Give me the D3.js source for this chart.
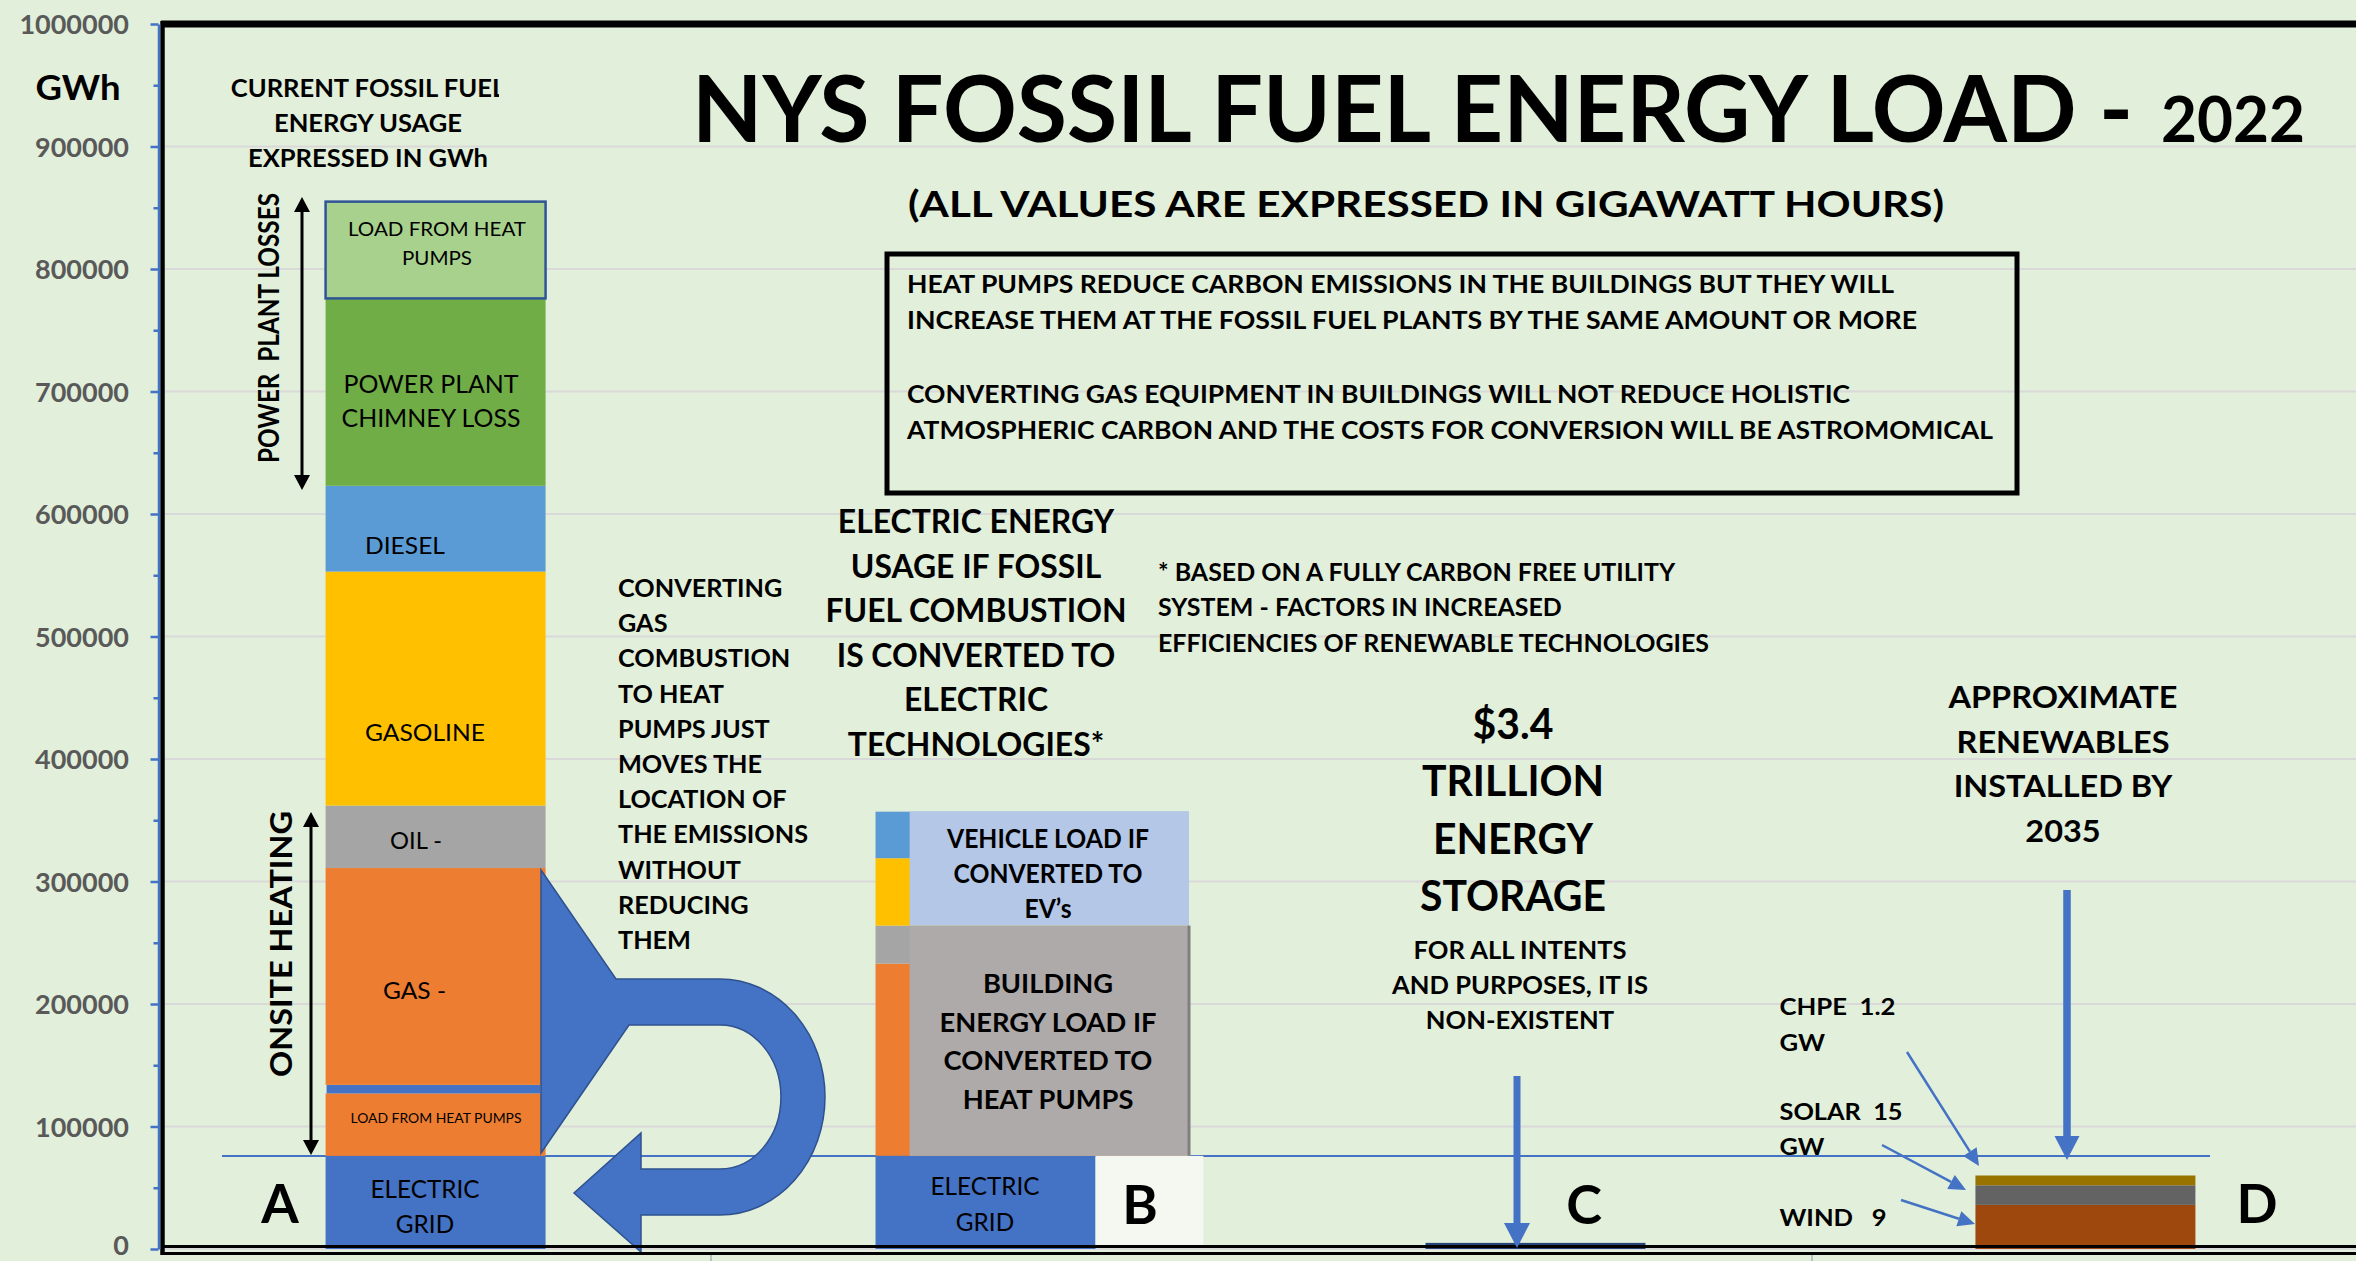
<!DOCTYPE html>
<html><head><meta charset="utf-8">
<script src="https://cdn.jsdelivr.net/npm/d3@7"></script>
<style>
html,body{margin:0;padding:0;background:#e2efda;overflow:hidden;}
svg{display:block;}
text{font-family:Lato,"Open Sans","DejaVu Sans",sans-serif;}
</style></head><body>
<svg id="c" width="2356" height="1261"></svg>
<script>
// ---------------- DATA ----------------
const categories = ["A", "B", "C", "D"];
const yTicks = [0, 100000, 200000, 300000, 400000, 500000, 600000, 700000, 800000, 900000, 1000000];
const minorTicks = [50000, 150000, 250000, 350000, 450000, 550000, 650000, 750000, 850000, 950000];

// Column A: current fossil fuel energy usage (GWh), stacked bottom -> top
const segNamesA = ["ELECTRIC GRID", "LOAD FROM HEAT PUMPS", "TRANSFER", "GAS -", "OIL -", "GASOLINE", "DIESEL", "POWER PLANT CHIMNEY LOSS", "LOAD FROM HEAT PUMPS (PLANT)"];
const segValuesA = [76000, 51000, 7000, 177000, 51000, 191000, 70000, 153000, 79000];
const segColorsA = ["#4472c4", "#ed7d31", "#4472c4", "#ed7d31", "#a5a5a5", "#ffc000", "#5b9bd5", "#70ad47", "#a9d18e"];

// Column B: electric usage if converted (underlying stack)
const segNamesB = ["ELECTRIC GRID", "HEATING", "OIL", "GASOLINE", "DIESEL"];
const segValuesB = [76000, 157000, 31000, 55000, 38000];
const segColorsB = ["#4472c4", "#ed7d31", "#a5a5a5", "#ffc000", "#5b9bd5"];
// Column B: converted loads stacked on the electric grid
const convNamesB = ["BUILDING ENERGY LOAD IF CONVERTED TO HEAT PUMPS", "VEHICLE LOAD IF CONVERTED TO EV's"];
const convValuesB = [188000, 93000];
const convColorsB = ["#aeaaaa", "#b4c7e7"];

// Column C: energy storage
const valuesC = [5000];
const colorC = "#264478";

// Column D: renewables installed by 2035
const segNamesD = ["WIND", "SOLAR", "CHPE"];
const segValuesD = [36000, 16000, 8000];
const segColorsD = ["#9e480e", "#636363", "#997300"];

const gridLevel = 76000;

// ---------------- SETUP ----------------
const svg = d3.select("#c");
const W = 2356, H = 1261;
const y = d3.scaleLinear().domain([0, 1000000]).range([1249, 24]);
const x = d3.scaleBand().domain(categories).range([165, 2356]).paddingInner(0.6).paddingOuter(0.292);
const bw = x.bandwidth();

function cum(vals) { let s = 0; return vals.map(v => { const a = s; s += v; return [a, s]; }); }

svg.append("rect").attr("width", W).attr("height", H).attr("fill", "#e2efda");

// gridlines
svg.append("g").selectAll("line").data(yTicks).join("line")
  .attr("x1", 165).attr("x2", W).attr("y1", d => y(d)).attr("y2", d => y(d))
  .attr("stroke", "#d9d9d9").attr("stroke-width", 2);

// electric grid reference line
svg.append("line").attr("x1", 222).attr("x2", 2210).attr("y1", y(gridLevel)).attr("y2", y(gridLevel))
  .attr("stroke", "#4472c4").attr("stroke-width", 2);

// ---- Column A ----
const stA = cum(segValuesA);
svg.append("g").selectAll("rect").data(stA).join("rect")
  .attr("x", (d, i) => i === 2 ? x("A") + 1 : x("A"))
  .attr("width", (d, i) => i === 2 ? bw - 6 : bw)
  .attr("y", d => y(d[1])).attr("height", d => y(d[0]) - y(d[1]))
  .attr("fill", (d, i) => segColorsA[i])
  .attr("stroke", (d, i) => i === 8 ? "#2f5597" : "none")
  .attr("stroke-width", (d, i) => i === 8 ? 2.5 : 0);

// ---- Column B ----
const stB = cum(segValuesB);
svg.append("g").selectAll("rect").data(stB.slice(1)).join("rect")
  .attr("x", x("B")).attr("width", bw * 1.425)
  .attr("y", d => y(d[1])).attr("height", d => y(d[0]) - y(d[1]))
  .attr("fill", (d, i) => segColorsB[i + 1]);
svg.append("rect").attr("x", x("B")).attr("width", bw)
  .attr("y", y(stB[0][1])).attr("height", y(0) - y(stB[0][1])).attr("fill", segColorsB[0]);
const convB = cum([gridLevel].concat(convValuesB)).slice(1);
svg.append("g").selectAll("rect").data(convB).join("rect")
  .attr("x", x("B") + bw * 0.155).attr("width", bw * 1.27)
  .attr("y", d => y(d[1])).attr("height", d => y(d[0]) - y(d[1]))
  .attr("fill", (d, i) => convColorsB[i]);
svg.append("line").attr("x1", x("B") + bw * 1.425).attr("x2", x("B") + bw * 1.425)
  .attr("y1", y(convB[0][1])).attr("y2", y(convB[0][0]))
  .attr("stroke", "#7f7f7f").attr("stroke-width", 3);
// white label box for B
svg.append("rect").attr("x", x("B") + bw).attr("width", bw * 0.49)
  .attr("y", y(gridLevel)).attr("height", y(2500) - y(gridLevel)).attr("fill", "#f4f8f1");

// ---- Column C ----
svg.append("g").selectAll("rect").data(valuesC).join("rect")
  .attr("x", x("C")).attr("width", bw).attr("y", d => y(d)).attr("height", d => y(0) - y(d))
  .attr("fill", colorC);

// ---- Column D ----
const stD = cum(segValuesD);
svg.append("g").selectAll("rect").data(stD).join("rect")
  .attr("x", x("D")).attr("width", bw)
  .attr("y", d => y(d[1])).attr("height", d => y(d[0]) - y(d[1]))
  .attr("fill", (d, i) => segColorsD[i]);

// ---- U-turn arrow ----
svg.append("path")
  .attr("d", "M541,870 L616,979 L720,979 A105,118 0 0 1 720,1215 L641,1215 L641,1252 L574,1193 L641,1133 L641,1169 L720,1169 A61,72 0 0 0 720,1025 L629,1025 L541,1153 Z")
  .attr("fill", "#4472c4").attr("stroke", "#2f528f").attr("stroke-width", 1.5);

// ---- frame ----
svg.append("line").attr("x1", 161).attr("x2", W).attr("y1", 24).attr("y2", 24).attr("stroke", "#000").attr("stroke-width", 7);
svg.append("line").attr("x1", 162.5).attr("x2", 162.5).attr("y1", 21).attr("y2", 1255).attr("stroke", "#000").attr("stroke-width", 4.5);
svg.append("line").attr("x1", 161).attr("x2", W).attr("y1", 1246.5).attr("y2", 1246.5).attr("stroke", "#000").attr("stroke-width", 3);
svg.append("line").attr("x1", 161).attr("x2", W).attr("y1", 1253.5).attr("y2", 1253.5).attr("stroke", "#000").attr("stroke-width", 3);
[711, 1812].forEach(px => svg.append("line").attr("x1", px).attr("x2", px).attr("y1", 1255).attr("y2", 1261).attr("stroke", "#bfbfbf").attr("stroke-width", 2));

// ---- axis ----
const axis = d3.axisLeft(y).tickValues(yTicks).tickSize(8).tickPadding(21.5).tickSizeOuter(0).tickFormat(d3.format("d"));
const ag = svg.append("g").attr("transform", "translate(158.5,0)").call(axis);
ag.select(".domain").attr("stroke", "#4472c4").attr("stroke-width", 2.5);
ag.selectAll(".tick line").attr("stroke", "#4472c4").attr("stroke-width", 2.5);
ag.selectAll(".tick text").attr("fill", "#595959").attr("font-size", 27).attr("font-weight", 700)
  .attr("font-family", "Lato").attr("dy", d => d === 0 ? "0.2em" : "0.36em");
const mg = svg.append("g").attr("transform", "translate(158.5,0)")
  .call(d3.axisLeft(y).tickValues(minorTicks).tickSize(5).tickFormat(""));
mg.select(".domain").remove();
mg.selectAll(".tick line").attr("stroke", "#4472c4").attr("stroke-width", 2.5);

// ---- text helper ----
function block(lines, o) {
  const g = svg.append("g");
  const els = lines.map((s, i) => g.append("text")
    .attr("x", o.x).attr("y", o.y + i * (o.dy || 0))
    .attr("text-anchor", o.anchor || "start")
    .attr("font-size", o.size).attr("font-weight", o.weight == null ? 700 : o.weight)
    .attr("fill", o.fill || "#000")
    .style("white-space", "pre")
    .text(s));
  if (o.widths) {
    els.forEach((e, i) => { if (o.widths[i]) e.attr("textLength", o.widths[i]).attr("lengthAdjust", "spacingAndGlyphs"); });
  } else if (o.refW != null) {
    const ref = els[o.ref || 0].node().getComputedTextLength();
    const r = o.refW / ref;
    els.forEach(e => { const n = e.node().getComputedTextLength(); e.attr("textLength", n * r).attr("lengthAdjust", "spacingAndGlyphs"); });
  }
  if (o.rotate) g.attr("transform", `rotate(${o.rotate},${o.x},${o.y})`);
  if (o.clip) g.attr("clip-path", `url(#${o.clip})`);
  return g;
}

const defs = svg.append("defs");
defs.append("clipPath").attr("id", "clipCur").append("rect").attr("x", 0).attr("y", 0).attr("width", 499).attr("height", 300);

// Title
block(["NYS FOSSIL FUEL ENERGY LOAD -"], { x: 692, y: 142, size: 92, widths: [1441] });
block(["2022"], { x: 2161, y: 142, size: 63, widths: [144] });
block(["(ALL VALUES ARE EXPRESSED IN GIGAWATT HOURS)"], { x: 1426, y: 217, size: 36, anchor: "middle", widths: [1036] });

// GWh
block(["GWh"], { x: 78, y: 100, size: 34, anchor: "middle", widths: [85] });

// current fossil fuel
block(["CURRENT FOSSIL FUEL", "ENERGY USAGE", "EXPRESSED IN GWh"], { x: 368, y: 97, dy: 35, size: 24, anchor: "middle", ref: 1, refW: 188, clip: "clipCur" });

// rotated labels
block(["POWER  PLANT LOSSES"], { x: 279, y: 328, size: 28, anchor: "middle", rotate: -90, widths: [270] });
block(["ONSITE HEATING"], { x: 292, y: 944, size: 31, anchor: "middle", rotate: -90, widths: [266] });

// column A labels
block(["LOAD FROM HEAT", "PUMPS"], { x: 437, y: 236, dy: 29, size: 20, weight: 400, anchor: "middle", ref: 0, refW: 178 });
block(["POWER PLANT", "CHIMNEY LOSS"], { x: 431, y: 393, dy: 34, size: 25, weight: 400, anchor: "middle", ref: 1, refW: 179 });
block(["DIESEL"], { x: 365, y: 554, size: 24, weight: 400, widths: [80] });
block(["GASOLINE"], { x: 365, y: 741, size: 24, weight: 400, widths: [120] });
block(["OIL -"], { x: 390, y: 849, size: 24, weight: 400, widths: [52] });
block(["GAS -"], { x: 383, y: 999, size: 24, weight: 400, widths: [63] });
block(["LOAD FROM HEAT PUMPS"], { x: 436, y: 1123, size: 13.5, weight: 400, anchor: "middle", widths: [171] });
block(["ELECTRIC", "GRID"], { x: 425, y: 1198, dy: 35, size: 25, weight: 400, anchor: "middle", ref: 0, refW: 109 });
block(["ELECTRIC", "GRID"], { x: 985, y: 1195, dy: 36, size: 25, weight: 400, anchor: "middle", ref: 0, refW: 109 });

// column letters
block(["A"], { x: 280, y: 1223, size: 54, anchor: "middle" });
block(["B"], { x: 1140, y: 1224, size: 54, anchor: "middle" });
block(["C"], { x: 1584, y: 1224, size: 54, anchor: "middle" });
block(["D"], { x: 2257, y: 1223, size: 54, anchor: "middle" });

// converting text
block(["CONVERTING", "GAS", "COMBUSTION", "TO HEAT", "PUMPS JUST", "MOVES THE", "LOCATION OF", "THE EMISSIONS", "WITHOUT", "REDUCING", "THEM"],
  { x: 618, y: 597, dy: 35.2, size: 25, ref: 7, refW: 190 });

// column B title
block(["ELECTRIC ENERGY", "USAGE IF FOSSIL", "FUEL COMBUSTION", "IS CONVERTED TO", "ELECTRIC", "TECHNOLOGIES*"],
  { x: 976, y: 533, dy: 44.6, size: 32, anchor: "middle", ref: 2, refW: 301 });

// B box texts
block(["VEHICLE LOAD IF", "CONVERTED TO", "EV\u2019s"], { x: 1048, y: 848, dy: 35, size: 26, anchor: "middle", ref: 0, refW: 202 });
block(["BUILDING", "ENERGY LOAD IF", "CONVERTED TO", "HEAT PUMPS"], { x: 1048, y: 993, dy: 38.5, size: 27, anchor: "middle", ref: 1, refW: 217 });

// footnote
block(["* BASED ON A FULLY CARBON FREE UTILITY", "SYSTEM - FACTORS IN INCREASED", "EFFICIENCIES OF RENEWABLE TECHNOLOGIES"],
  { x: 1158, y: 581, dy: 35.3, size: 24, ref: 2, refW: 551 });

// text box
svg.append("rect").attr("x", 887).attr("y", 254).attr("width", 1130).attr("height", 239)
  .attr("fill", "none").attr("stroke", "#000").attr("stroke-width", 5);
block(["HEAT PUMPS REDUCE CARBON EMISSIONS IN THE BUILDINGS BUT THEY WILL",
  "INCREASE THEM AT THE FOSSIL FUEL PLANTS BY THE SAME AMOUNT OR MORE"],
  { x: 907, y: 293, dy: 36, size: 25, widths: [987, 1010] });
block(["CONVERTING GAS EQUIPMENT IN BUILDINGS WILL NOT REDUCE HOLISTIC",
  "ATMOSPHERIC CARBON AND THE COSTS FOR CONVERSION WILL BE ASTROMOMICAL"],
  { x: 907, y: 403, dy: 36, size: 25, widths: [943, 1086] });

// storage text
block(["$3.4", "TRILLION", "ENERGY", "STORAGE"], { x: 1513, y: 739, dy: 57.3, size: 42, anchor: "middle", ref: 3, refW: 186 });
block(["FOR ALL INTENTS", "AND PURPOSES, IT IS", "NON-EXISTENT"], { x: 1520, y: 959, dy: 35, size: 25, anchor: "middle", ref: 1, refW: 256 });

// renewables text
block(["APPROXIMATE", "RENEWABLES", "INSTALLED BY", "2035"], { x: 2063, y: 708, dy: 44.7, size: 31, anchor: "middle", ref: 0, refW: 229 });
block(["CHPE  1.2", "GW"], { x: 1779.5, y: 1015, dy: 36, size: 23, ref: 0, refW: 116 });
block(["SOLAR  15", "GW"], { x: 1779.5, y: 1120, dy: 35, size: 23, ref: 0, refW: 123 });
block(["WIND   9"], { x: 1779.5, y: 1226, size: 23, widths: [107] });

// ---- arrows ----
function vArrow(xp, y1, y2, shaftW, headL, headW, color) {
  svg.append("rect").attr("x", xp - shaftW / 2).attr("y", y1).attr("width", shaftW).attr("height", y2 - headL - y1).attr("fill", color);
  svg.append("path").attr("d", `M${xp - headW / 2},${y2 - headL} L${xp + headW / 2},${y2 - headL} L${xp},${y2} Z`).attr("fill", color);
}
vArrow(1517, 1076, 1248, 7, 25, 26, "#4472c4");
vArrow(2067, 890, 1160, 7.5, 24, 25, "#4472c4");

function dblArrow(xp, yTop, yBot) {
  const hl = 15, hw = 8;
  svg.append("line").attr("x1", xp).attr("x2", xp).attr("y1", yTop + hl).attr("y2", yBot - hl).attr("stroke", "#000").attr("stroke-width", 3);
  svg.append("path").attr("d", `M${xp},${yTop} L${xp + hw},${yTop + hl} L${xp - hw},${yTop + hl} Z`).attr("fill", "#000");
  svg.append("path").attr("d", `M${xp},${yBot} L${xp + hw},${yBot - hl} L${xp - hw},${yBot - hl} Z`).attr("fill", "#000");
}
dblArrow(302, 197, 490);
dblArrow(311, 812, 1155);

function pointer(x1, y1, x2, y2) {
  const dx = x2 - x1, dy = y2 - y1, L = Math.hypot(dx, dy), ux = dx / L, uy = dy / L;
  const hl = 17, hw = 8;
  const bx = x2 - ux * hl, by = y2 - uy * hl;
  svg.append("line").attr("x1", x1).attr("y1", y1).attr("x2", bx).attr("y2", by).attr("stroke", "#4472c4").attr("stroke-width", 2.5);
  svg.append("path").attr("d", `M${x2},${y2} L${bx - uy * hw},${by + ux * hw} L${bx + uy * hw},${by - ux * hw} Z`).attr("fill", "#4472c4");
}
pointer(1907, 1052, 1979, 1166);
pointer(1882, 1145, 1966, 1190);
pointer(1901, 1200, 1975, 1224);
</script>
</body></html>
